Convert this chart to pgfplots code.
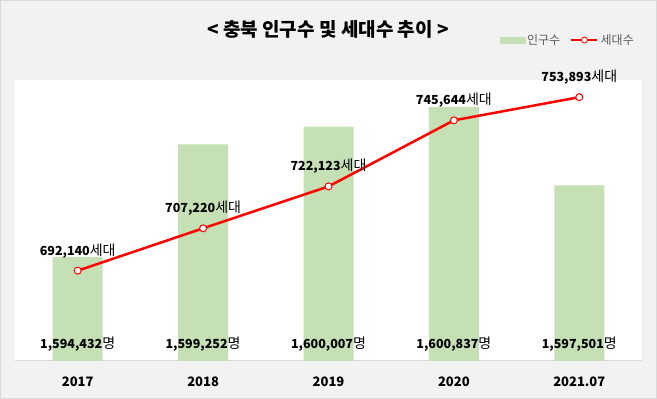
\documentclass[border=0pt]{standalone}
\usepackage{pgfplots}
\pgfplotsset{compat=1.18}
\usepackage{fontspec}
\setmainfont{Noto Sans CJK KR}
\definecolor{barg}{HTML}{C5E0B4}
\definecolor{bgg}{HTML}{F2F2F2}
\definecolor{framec}{HTML}{D9D9D9}
\definecolor{txtg}{HTML}{595959}
\newcommand{\ko}[1]{{\fontsize{14}{14}\selectfont #1}}
\begin{document}
\begin{tikzpicture}[x=1pt,y=1pt]
\fill[bgg] (0,0) rectangle (657,399);
\draw[framec,line width=1pt] (0.5,0.5) rectangle (656.5,398.5);
\useasboundingbox (0,0) rectangle (657,399);
\node[font=\fontsize{19}{19}\selectfont\bfseries] at (328,370) {< 충북 인구수 및 세대수 추이 >};
\begin{axis}[
  at={(15pt,38pt)}, anchor=south west,
  scale only axis, width=627pt, height=281pt,
  xmin=-0.5, xmax=4.5, ymin=1590000, ymax=1602000,
  axis y line=none, axis x line*=bottom,
  axis line style={draw=framec, line width=1pt},
  axis background/.style={fill=white},
  xtick={0,1,2,3,4}, xticklabels={2017,2018,2019,2020,2021.07},
  major tick length=0pt,
  xticklabel style={font=\fontsize{13}{13}\selectfont\bfseries, yshift=-12pt},
  ytick=\empty,
  clip=false,
]
\addplot[ybar, bar width=50pt, fill=barg, draw=none] coordinates {(0,1594432) (1,1599252) (2,1600007) (3,1600837) (4,1597501)};
\node[font=\fontsize{12.5}{12.5}\selectfont, yshift=17pt] at (axis cs:0,1590000) {\textbf{1,594,432}\ko{명}};
\node[font=\fontsize{12.5}{12.5}\selectfont, yshift=17pt] at (axis cs:1,1590000) {\textbf{1,599,252}\ko{명}};
\node[font=\fontsize{12.5}{12.5}\selectfont, yshift=17pt] at (axis cs:2,1590000) {\textbf{1,600,007}\ko{명}};
\node[font=\fontsize{12.5}{12.5}\selectfont, yshift=17pt] at (axis cs:3,1590000) {\textbf{1,600,837}\ko{명}};
\node[font=\fontsize{12.5}{12.5}\selectfont, yshift=17pt] at (axis cs:4,1590000) {\textbf{1,597,501}\ko{명}};
\end{axis}
\begin{axis}[
  at={(15pt,38pt)}, anchor=south west,
  scale only axis, width=627pt, height=281pt,
  xmin=-0.5, xmax=4.5, ymin=660000, ymax=760000,
  hide axis, clip=false,
  legend columns=2,
  legend style={draw=none, fill=none, at={(1,1)}, anchor=south east, xshift=-3pt, yshift=30pt,
    font=\fontsize{12}{12}\selectfont, text=txtg,
    /tikz/every even column/.append style={column sep=8pt}},
]
\addlegendimage{legend image code/.code={\fill[barg] (0pt,-3pt) rectangle (25pt,3pt);}}
\addplot[color=red, line width=2.5pt, mark=*, mark size=3.5pt,
  mark options={fill=white, draw=red, line width=1pt},
  legend image code/.code={\draw[red,line width=2.5pt] (0pt,0pt)--(26pt,0pt); \draw[red,fill=white,line width=0.8pt] (13pt,0pt) circle (3pt);}]
  coordinates {(0,692140) (1,707220) (2,722123) (3,745644) (4,753893)};
\legend{인구수, 세대수}
\node[font=\fontsize{12.5}{12.5}\selectfont, yshift=20pt] at (axis cs:0,692140) {\textbf{692,140}\ko{세대}};
\node[font=\fontsize{12.5}{12.5}\selectfont, yshift=20pt] at (axis cs:1,707220) {\textbf{707,220}\ko{세대}};
\node[font=\fontsize{12.5}{12.5}\selectfont, yshift=20pt] at (axis cs:2,722123) {\textbf{722,123}\ko{세대}};
\node[font=\fontsize{12.5}{12.5}\selectfont, yshift=20pt] at (axis cs:3,745644) {\textbf{745,644}\ko{세대}};
\node[font=\fontsize{12.5}{12.5}\selectfont, yshift=20pt] at (axis cs:4,753893) {\textbf{753,893}\ko{세대}};
\end{axis}
\end{tikzpicture}
\end{document}
